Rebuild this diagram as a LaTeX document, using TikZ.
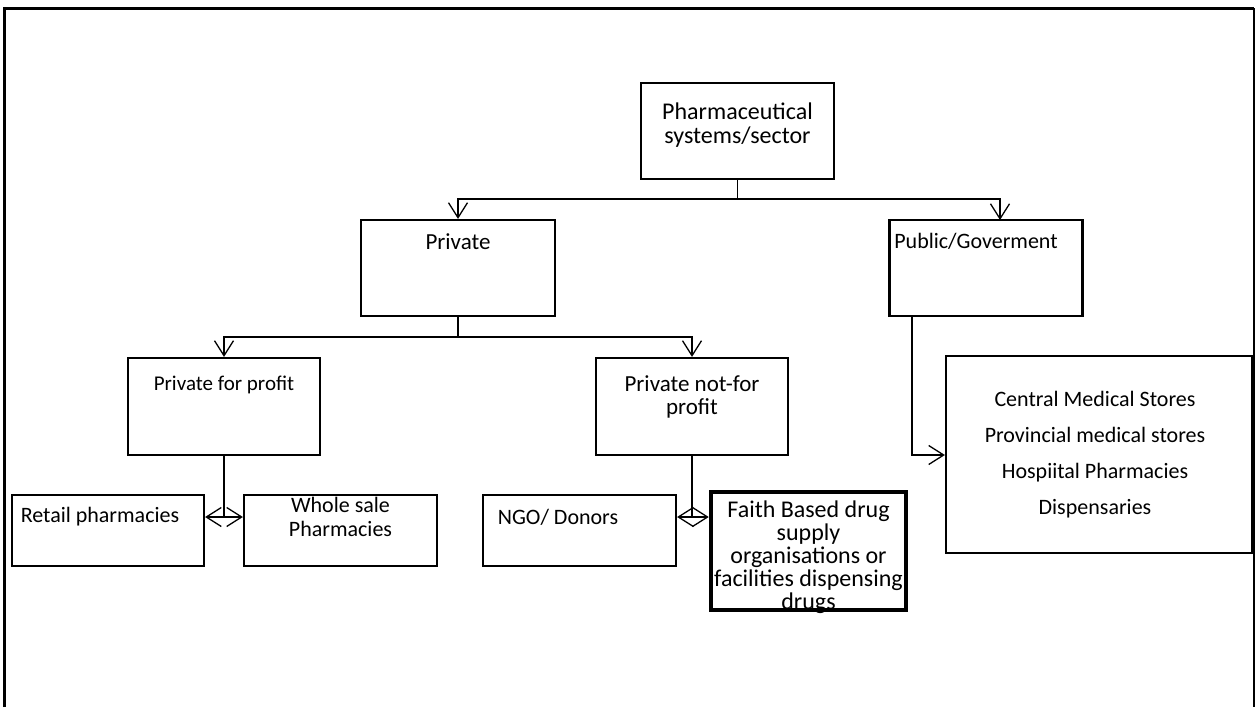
\documentclass[tikz,border=0pt]{standalone}
\usepackage{fontspec}
\setmainfont{Carlito}
\usetikzlibrary{arrows.meta}
\begin{document}
\begin{tikzpicture}[x=1pt,y=-1pt,
  box/.style={draw=black,line width=2.2pt,minimum width=#1,inner sep=0pt},
  txt/.style={font=\fontsize{#1}{23.5}\selectfont,align=center,inner sep=0pt},
  txt/.default=23,
  conn/.style={line width=1.4pt},
  arr/.style={conn,-{Straight Barb[length=15pt,width=19pt,line width=1.3pt]}}]
\useasboundingbox (0,0) rectangle (1258,707);
% frame
\draw[line width=3pt] (4,707) -- (4,8) -- (1254,8);
\draw[line width=1.5pt] (1254,8) -- (1254,707);
% boxes
\node[box=193pt,minimum height=96pt] (top) at (737.5,131) {};
\node[box=194pt,minimum height=96pt] (priv) at (458,268) {};
\node[box=193pt,minimum height=96pt] (pub) at (986,268) {};
\node[box=192pt,minimum height=97pt] (pfp) at (224,406.5) {};
\node[box=192pt,minimum height=97pt] (nfp) at (692,406.5) {};
\node[box=192pt,minimum height=71pt] (retail) at (108,530.5) {};
\node[box=193pt,minimum height=71pt] (whole) at (340.5,530.5) {};
\node[box=193pt,minimum height=71pt] (ngo) at (579.5,530.5) {};
\node[draw=black,line width=4.5pt,minimum width=195pt,minimum height=118pt,inner sep=0pt] (faith) at (808.5,551) {};
\node[box=306pt,minimum height=197pt] (cms) at (1099,454.5) {};
% texts
\node[txt=24] (ttop) at (737.5,125) {Pharmaceutical\\systems/sector};
\node[txt=23] (tpriv) at (458,242) {Private};
\node[txt=22] (tpub) at (976,241) {Public/Goverment};
\node[txt=21] (tpfp) at (224,385) {Private for profit};
\node[txt=23] (tnfp) at (692,397) {Private not-for\\profit};
\node[txt=22] (tretail) at (100,517) {Retail pharmacies};
\node[txt=22] (twhole) at (340.5,517) {Whole sale\\Pharmacies};
\node[txt=22] (tngo) at (558,517) {NGO/ Donors};
\node[txt,font=\fontsize{24}{23}\selectfont] (tfaith) at (808.5,557) {Faith Based drug\\supply\\organisations or\\facilities dispensing\\drugs};
\node[txt,font=\fontsize{22}{36}\selectfont] (tcms) at (1095,454.5) {Central Medical Stores\\Provincial medical stores\\Hospiital Pharmacies\\Dispensaries};
% connectors
\coordinate (j1) at (top.south |- 0,199);
\draw[conn] (top.south) -- (j1);
\draw[arr] (j1) -| (priv.north);
\draw[arr] (j1) -| (1000,220) coordinate (pubin);
\coordinate (j2) at (priv.south |- 0,337);
\draw[conn] (priv.south) -- (j2);
\draw[arr] (j2) -| (pfp.north);
\draw[arr] (j2) -| (nfp.north);
\coordinate (j3) at (pfp.south |- 0,517);
\draw[conn] (pfp.south) -- (j3);
\draw[arr] (j3) -- (retail.east |- j3);
\draw[arr] (j3) -- (whole.west |- j3);
\coordinate (j4) at (nfp.south |- 0,517);
\draw[conn] (nfp.south) -- (j4);
\draw[arr] (j4) -- (ngo.east |- j4);
\draw[arr] (j4) -- (faith.west |- j4);
\coordinate (p1) at (912,316);
\draw[arr] (p1) |- (cms.west |- 0,455);
\end{tikzpicture}
\end{document}
